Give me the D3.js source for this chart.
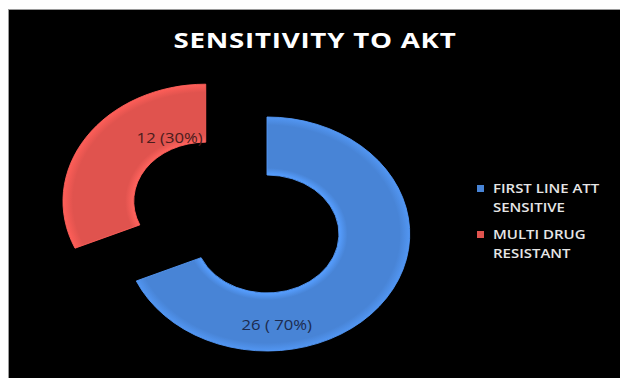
<!DOCTYPE html>
<html>
<head>
<meta charset="utf-8">
<script src="https://cdn.jsdelivr.net/npm/d3@7"></script>
<style>
  html, body { margin: 0; padding: 0; background: #ffffff; }
  svg { display: block; }
</style>
</head>
<body>
<svg id="chart" width="620" height="378"></svg>
<script>
// Data
const categories = ["FIRST LINE ATT SENSITIVE", "MULTI DRUG RESISTANT"];
const legendLines = [["FIRST LINE ATT", "SENSITIVE"], ["MULTI DRUG", "RESISTANT"]];
const counts = [26, 12];
const percentLabels = ["70%", "30%"];
const colors = ["#4884d6", "#e0534e"];
const labelColors = ["#1c2b4e", "#4a1c1c"];
const exploded = [false, true];

const W = 620, H = 378;
const svg = d3.select("#chart");

// Chart panel
svg.append("rect")
  .attr("x", 8.5).attr("y", 9.5)
  .attr("width", W - 8).attr("height", H - 9)
  .attr("fill", "#000")
  .attr("stroke", "#9a9a9a")
  .attr("stroke-width", 1);

// Title
svg.append("text")
  .attr("transform", "translate(315,48) scale(1.26,1)")
  .attr("text-anchor", "middle")
  .attr("font-family", "Open Sans, sans-serif")
  .attr("font-weight", "700")
  .attr("font-size", 22)
  .attr("letter-spacing", 0.6)
  .attr("fill", "#ffffff")
  .text("SENSITIVITY TO AKT");

// Doughnut
const cx = 267, cy = 234;
const outerR = 117, innerR = 59;
const stretchX = 1.22;
const explodeDist = 60;

const pie = d3.pie().sort(null).value(d => d).startAngle(0).endAngle(2 * Math.PI);
const arcs = pie(counts);
const arc = d3.arc().innerRadius(innerR).outerRadius(outerR);

const ring = svg.append("g")
  .attr("transform", `translate(${cx},${cy}) scale(${stretchX},1)`);

// soft bevel highlight
const defs = svg.append("defs");
colors.forEach((c, i) => {
  const g = defs.append("radialGradient")
    .attr("id", "bevel" + i)
    .attr("gradientUnits", "userSpaceOnUse")
    .attr("cx", 0).attr("cy", 0).attr("r", outerR);
  const base = d3.color(c);
  g.append("stop").attr("offset", innerR / outerR).attr("stop-color", base.brighter(0.5));
  g.append("stop").attr("offset", innerR / outerR + 0.06).attr("stop-color", base);
  g.append("stop").attr("offset", 0.93).attr("stop-color", base);
  g.append("stop").attr("offset", 1).attr("stop-color", base.brighter(0.35));
});

const slices = ring.selectAll("g.slice")
  .data(arcs)
  .join("g")
  .attr("class", "slice")
  .attr("transform", (d, i) => {
    if (!exploded[i]) return null;
    const mid = (d.startAngle + d.endAngle) / 2;
    return `translate(${Math.sin(mid) * explodeDist},${-Math.cos(mid) * explodeDist})`;
  });

slices.append("path")
  .attr("d", arc)
  .attr("fill", (d, i) => `url(#bevel${i})`)
  .attr("stroke", (d, i) => d3.color(colors[i]).brighter(0.4))
  .attr("stroke-width", 0.8);

// Data labels: angle (deg, clockwise from 12 o'clock) and radius relative to slice centre
const labelPlacement = [{ angle: 175, r: 91 }, { angle: 335, r: 70 }];
slices.append("text")
  .attr("transform", (d, i) => {
    const a = labelPlacement[i].angle * Math.PI / 180;
    const x = Math.sin(a) * labelPlacement[i].r;
    const y = -Math.cos(a) * labelPlacement[i].r;
    return `translate(${x},${y}) scale(${1 / stretchX * 1.15},1)`;
  })
  .attr("text-anchor", "middle")
  .attr("dy", "0.35em")
  .attr("font-family", "Open Sans, sans-serif")
  .attr("font-size", 14.5)
  .attr("fill", (d, i) => labelColors[i])
  .text((d, i) => i === 0 ? `${d.data} ( ${percentLabels[i]})` : `${d.data} (${percentLabels[i]})`);

// Legend
const legend = svg.append("g").attr("transform", "translate(477,183)");
const item = legend.selectAll("g.item")
  .data(categories)
  .join("g")
  .attr("class", "item")
  .attr("transform", (d, i) => `translate(0,${i * 46})`);

item.append("rect")
  .attr("x", 0).attr("y", 2)
  .attr("width", 7).attr("height", 7)
  .attr("fill", (d, i) => colors[i]);

item.each(function (d, i) {
  const t = d3.select(this).append("text")
    .attr("transform", "translate(16,0) scale(1.2,1)")
    .attr("font-family", "Open Sans, sans-serif")
    .attr("font-weight", "600")
    .attr("font-size", 12.5)
    .attr("fill", "#e6e6e6");
  legendLines[i].forEach((line, j) => {
    t.append("tspan").attr("x", 0).attr("y", 10 + j * 19).text(line);
  });
});
</script>
</body>
</html>
